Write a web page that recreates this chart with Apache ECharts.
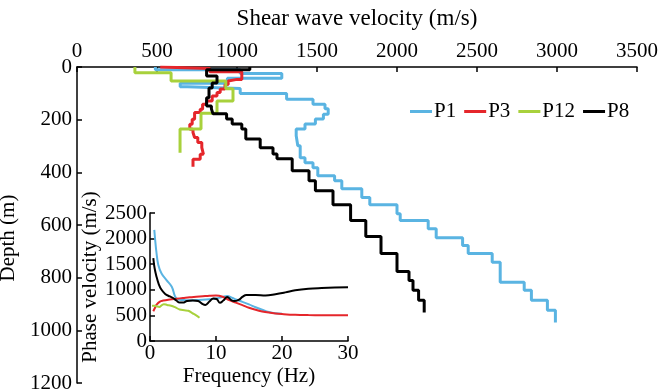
<!DOCTYPE html>
<html>
<head>
<meta charset="utf-8">
<script src="https://cdn.jsdelivr.net/npm/echarts@6/dist/echarts.min.js"></script>
<style>
  html, body { margin: 0; padding: 0; background: #fff; }
  #chart { width: 659px; height: 392px; }
</style>
</head>
<body>
<div id="chart"></div>
<script>
// shear wave velocity profiles: layer velocity (m/s) and layer bottom depth (m)
const p1Vs = [490, 1020, 1280, 940, 645, 690, 1020, 1310, 1475, 1550, 1570, 1540, 1490, 1425, 1370, 1380, 1395, 1425, 1475, 1505, 1610, 1655, 1780, 1830, 2000, 2020, 2195, 2245, 2410, 2445, 2595, 2645, 2795, 2840, 2940, 2990];
const p1Base = [10, 25, 43, 62, 75, 82, 101, 122, 141, 159, 179, 197, 216, 235, 261, 299, 345, 364, 383, 413, 432, 462, 496, 523, 557, 583, 614, 648, 678, 708, 741, 817, 848, 886, 924, 970];

const p3Vs = [520, 830, 1030, 1000, 945, 925, 895, 875, 845, 810, 785, 770, 735, 720, 705, 725, 735, 755, 780, 790, 770, 725];
const p3Base = [6, 18, 47, 53, 66, 84, 97, 110, 129, 141, 160, 173, 198, 217, 236, 249, 268, 287, 306, 331, 350, 379];

const p12Vs = [362, 588, 930, 975, 875, 775, 644];
const p12Base = [22, 53, 83, 129, 176, 235, 326];

const p8Vs = [1080, 810, 875, 845, 825, 810, 840, 850, 935, 970, 1030, 1055, 1145, 1225, 1250, 1345, 1450, 1490, 1600, 1710, 1805, 1900, 2000, 2075, 2100, 2135, 2170];
const p8Base = [10, 34, 61, 80, 117, 148, 159, 178, 197, 216, 235, 273, 307, 330, 348, 394, 432, 470, 523, 583, 644, 708, 777, 811, 848, 886, 932];

// dispersion curves: frequency (Hz) and phase velocity (m/s)
const p1F = [0.65, 0.8, 0.95, 1.25, 1.75, 2.5, 3.3, 3.8, 4.2, 5, 6, 7, 8, 9, 10, 11, 11.7, 12.5, 13, 14, 15, 16, 17, 18, 19, 20];
const p1C = [2170, 1950, 1760, 1490, 1320, 1190, 1060, 870, 815, 800, 795, 800, 805, 815, 830, 860, 880, 840, 810, 765, 715, 660, 610, 565, 540, 530];

const p3F = [0.5, 0.8, 1.0, 1.5, 2, 3, 4, 5, 6, 7, 8, 9, 10, 11, 12, 13, 14, 15, 16, 17, 18, 19, 20, 22, 24, 26, 28, 30];
const p3C = [580, 660, 710, 770, 790, 810, 825, 840, 855, 865, 875, 885, 890, 865, 800, 750, 700, 650, 610, 578, 555, 538, 527, 512, 506, 504, 504, 504];

const p12F = [0.3, 0.7, 1.0, 1.4, 1.8, 2.1, 2.6, 3.2, 3.8, 4.5, 5.2, 5.8, 6.4, 7.0, 7.5];
const p12C = [690, 690, 680, 665, 700, 720, 705, 690, 660, 615, 600, 590, 545, 500, 455];

const p8F = [0.5, 0.7, 1.0, 1.3, 1.7, 2.3, 3.0, 3.5, 4.0, 4.5, 5.0, 5.6, 6.5, 7.3, 8.0, 8.4, 9.0, 9.6, 10.1, 10.6, 11.1, 11.7, 12.3, 12.8, 13.5, 14.0, 14.6, 16, 17.5, 19, 20.5, 22, 24, 26, 28, 30];
const p8C = [1620, 1420, 1250, 1120, 1010, 920, 870, 840, 790, 750, 750, 780, 790, 780, 720, 705, 770, 830, 820, 745, 790, 860, 800, 780, 810, 860, 900, 900, 890, 915, 950, 990, 1020, 1035, 1045, 1050];

const velTicks = [0, 3500, 500];
const depthTicks = [0, 1200, 200];
const freqTicks = [0, 30, 10];
const phaseTicks = [0, 2500, 500];

const names = ['P1', 'P3', 'P12', 'P8'];
const colors = ['#5ab4e2', '#e5262b', '#a8d13c', '#000000'];

const font = "'Liberation Serif', 'Times New Roman', serif";

// turn layers into a staircase path: vertical within a layer, horizontal at interfaces
function staircase(vs, base) {
  const pts = [];
  let top = 0;
  for (let i = 0; i < vs.length; i++) {
    pts.push([vs[i], top]);
    pts.push([vs[i], base[i]]);
    top = base[i];
  }
  return pts;
}
function zip(a, b) { return a.map((v, i) => [v, b[i]]); }

const profiles = [staircase(p1Vs, p1Base), staircase(p3Vs, p3Base), staircase(p12Vs, p12Base), staircase(p8Vs, p8Base)];
const curves = [zip(p1F, p1C), zip(p3F, p3C), zip(p12F, p12C), zip(p8F, p8C)];

const axisCommon = {
  axisLine: { show: true, lineStyle: { color: '#000', width: 1.5 } },
  axisTick: { show: true, inside: true, length: 5, lineStyle: { color: '#000', width: 1.5 } },
  splitLine: { show: false },
  nameLocation: 'middle',
  nameTextStyle: { fontFamily: font, fontSize: 21, color: '#000' },
};
function labels(margin) {
  return { fontFamily: font, fontSize: 21, color: '#000', margin: margin, formatter: v => String(v) };
}

const series = [];
names.forEach((n, i) => {
  series.push({
    name: n, type: 'line', xAxisIndex: 0, yAxisIndex: 0,
    data: profiles[i], showSymbol: false, symbol: 'none',
    lineStyle: { color: colors[i], width: 3 }, itemStyle: { color: colors[i] },
    z: 2 + i
  });
});
names.forEach((n, i) => {
  series.push({
    name: n, type: 'line', xAxisIndex: 1, yAxisIndex: 1,
    data: curves[i], showSymbol: false, symbol: 'none', smooth: 0.4,
    lineStyle: { color: colors[i], width: 2 }, itemStyle: { color: colors[i] },
    z: 2 + i
  });
});

const chart = echarts.init(document.getElementById('chart'), null, { renderer: 'canvas' });
chart.setOption({
  animation: false,
  backgroundColor: '#fff',
  textStyle: { fontFamily: font },
  legend: {
    data: names, left: 410, top: 101, padding: 0,
    icon: 'rect', itemWidth: 22, itemHeight: 3, itemGap: 8,
    textStyle: { fontFamily: font, fontSize: 21, color: '#000', padding: [0, 0, 0, -3] }
  },
  grid: [
    { left: 77, top: 67, width: 560, height: 316, containLabel: false, outerBoundsMode: 'none' },
    { left: 150, top: 213, width: 198, height: 128, containLabel: false, outerBoundsMode: 'none' }
  ],
  xAxis: [
    Object.assign({}, axisCommon, {
      type: 'value', gridIndex: 0, position: 'top',
      min: velTicks[0], max: velTicks[1], interval: velTicks[2],
      name: 'Shear wave velocity (m/s)', nameGap: 37,
      nameTextStyle: { fontFamily: font, fontSize: 23, color: '#000' },
      axisLabel: labels(5)
    }),
    Object.assign({}, axisCommon, {
      type: 'value', gridIndex: 1, position: 'bottom',
      min: freqTicks[0], max: freqTicks[1], interval: freqTicks[2],
      name: 'Frequency (Hz)', nameGap: 25,
      axisLabel: labels(2)
    })
  ],
  yAxis: [
    Object.assign({}, axisCommon, {
      type: 'value', gridIndex: 0, inverse: true,
      min: depthTicks[0], max: depthTicks[1], interval: depthTicks[2],
      name: 'Depth (m)', nameGap: 50,
      nameTextStyle: { fontFamily: font, fontSize: 21, color: '#000', padding: [0, 26, 0, 0] },
      axisLabel: labels(5)
    }),
    Object.assign({}, axisCommon, {
      type: 'value', gridIndex: 1,
      min: phaseTicks[0], max: phaseTicks[1], interval: phaseTicks[2],
      name: 'Phase velocity (m/s)', nameGap: 47,
      axisLabel: labels(3)
    })
  ],
  series: series
});
</script>
</body>
</html>
